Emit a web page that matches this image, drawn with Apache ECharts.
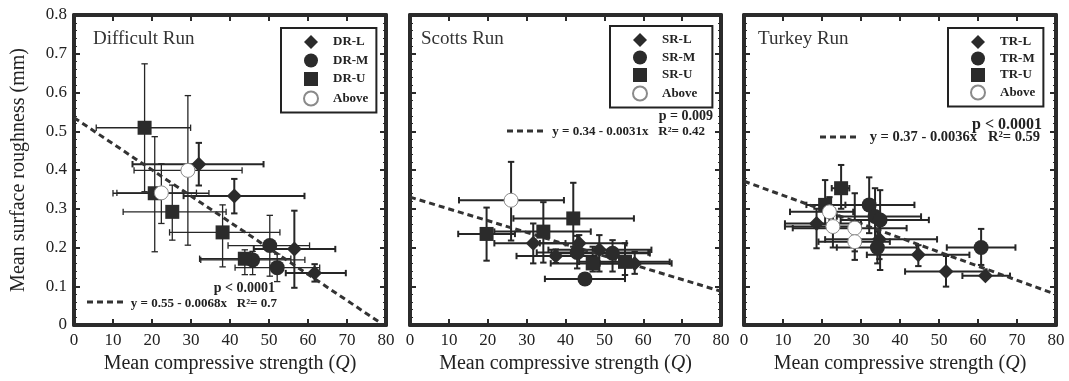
<!DOCTYPE html>
<html><head><meta charset="utf-8">
<script src="https://cdn.jsdelivr.net/npm/echarts@6/dist/echarts.min.js"></script>
<style>html,body{margin:0;padding:0;background:#fff}#c{width:1069px;height:381px}</style>
</head><body><div id="c"></div>
<script>
// ---------- data ----------
// axis ranges / ticks
const xMin = 0, xMax = 80, xStep = 10;
const yMin = 0, yMax = 0.8, yStep = 0.1;
const panelTitles = ['Difficult Run', 'Scotts Run', 'Turkey Run'];
const xAxisTitle = 'Mean compressive strength ({i|Q})';
const yAxisTitle = 'Mean surface roughness (mm)';

// rows: [meanQ, meanRoughness, Qlow, Qhigh, roughLow, roughHigh]
const drL = [[32.0,0.415,15.0,48.6,0.360,0.470],[41.1,0.333,28.1,59.1,0.288,0.377],[56.5,0.196,46.1,67.0,0.096,0.295],[61.7,0.134,54.3,69.7,0.112,0.157]];
const drM = [[50.2,0.205,39.5,60.4,0.126,0.283],[45.8,0.168,32.5,59.2,0.130,0.190],[52.1,0.148,41.3,63.0,0.112,0.183]];
const drU = [[18.1,0.509,5.7,29.9,0.344,0.674],[20.7,0.340,10.0,34.6,0.189,0.486],[25.2,0.292,12.6,39.0,0.219,0.361],[38.1,0.239,24.5,52.8,0.150,0.310],[43.8,0.171,32.2,55.6,0.130,0.194]];
const drAbove = [[29.2,0.399,15.4,43.1,0.206,0.592],[22.4,0.341,11.0,31.4,0.262,0.416]];
const drFit = [[0,0.535],[78.8,0.004]];

const srL = [[31.7,0.211,21.7,40.0,0.159,0.262],[37.5,0.178,27.4,48.0,0.160,0.195],[43.5,0.211,33.4,55.7,0.190,0.232],[48.7,0.194,35.6,62.1,0.138,0.232],[57.8,0.159,48.8,67.3,0.132,0.189]];
const srM = [[43.0,0.187,32.6,61.3,0.146,0.230],[52.1,0.185,36.4,61.7,0.138,0.219],[45.0,0.119,34.7,55.3,0.110,0.130]];
const srU = [[19.7,0.235,12.4,27.0,0.166,0.303],[34.3,0.241,21.7,46.5,0.161,0.317],[42.0,0.275,26.6,57.6,0.202,0.367],[47.0,0.159,36.2,57.4,0.138,0.202],[55.3,0.163,43.5,66.8,0.129,0.211]];
const srAbove = [[26.0,0.322,12.6,39.6,0.218,0.421]];
const srFit = [[0,0.330],[80,0.087]];

const trL = [[18.6,0.262,10.5,30.0,0.198,0.300],[34.7,0.221,20.8,49.5,0.170,0.270],[44.7,0.181,31.5,57.8,0.152,0.206],[51.8,0.138,41.3,62.2,0.099,0.178],[61.9,0.127,56.0,68.2,0.120,0.135]];
const trM = [[32.1,0.310,21.2,43.7,0.237,0.381],[33.6,0.280,23.8,45.4,0.200,0.353],[34.9,0.271,24.8,47.4,0.142,0.348],[34.2,0.200,23.8,44.3,0.159,0.241],[60.8,0.200,52.0,69.6,0.155,0.248]];
const trU = [[24.9,0.353,22.5,27.0,0.300,0.413],[20.8,0.310,16.0,26.0,0.260,0.374]];
const trAbove = [[21.9,0.292,11.8,28.0,0.250,0.330],[22.8,0.254,10.5,30.0,0.200,0.300],[28.4,0.250,12.5,41.7,0.190,0.340],[28.4,0.215,19.1,37.4,0.168,0.260]];
const trFit = [[0,0.371],[80,0.079]];

const panelGroups = [
  [['DR-L', drL], ['DR-M', drM], ['DR-U', drU], ['Above', drAbove]],
  [['SR-L', srL], ['SR-M', srM], ['SR-U', srU], ['Above', srAbove]],
  [['TR-L', trL], ['TR-M', trM], ['TR-U', trU], ['Above', trAbove]]
];
const panelFits = [drFit, srFit, trFit];
const pTexts = ['p < 0.0001', 'p = 0.009', 'p < 0.0001'];
const eqTexts = ['y = 0.55 - 0.0068x   R\u00b2= 0.7', 'y = 0.34 - 0.0031x   R\u00b2= 0.42', 'y = 0.37 - 0.0036x   R\u00b2= 0.59'];

// ---------- layout / style ----------
const SERIF = '"Liberation Serif", "Times New Roman", serif';
const INK = '#2b2b2b';
const grids = [
  {left: 74, top: 15, width: 312, height: 310},
  {left: 410, top: 15, width: 311, height: 310},
  {left: 744, top: 15, width: 312, height: 310}
];
const legendPos = [
  {left: 281, top: 28, itemGap: 4.5, padR: 8},
  {left: 610, top: 26, itemGap: 3.5, padR: 15},
  {left: 948, top: 28, itemGap: 2.5, padR: 8}
];
const titlePos = [{left: 93, top: 30}, {left: 421, top: 30}, {left: 758, top: 30}];
const annot = [
  {p: [275, 288, 14], eq: [277, 304, 13], dash: [87, 125, 302]},
  {p: [713, 116, 14], eq: [705, 132, 13], dash: [507, 546, 131]},
  {p: [1042, 125, 16], eq: [1040, 137, 14.5], dash: [820, 858, 137]}
];
const symbols = [
  {symbol: 'diamond', size: 15, itemStyle: {color: INK, opacity: 1}},
  {symbol: 'circle', size: 15, itemStyle: {color: INK, opacity: 1}},
  {symbol: 'rect', size: 14, itemStyle: {color: INK, opacity: 1}},
  {symbol: 'circle', size: 14, itemStyle: {color: '#fff', borderColor: '#8a8a8a', borderWidth: 1, opacity: 1}}
];
const barWidth = [[2, 1.3, 1.3, 1.3], [2, 2, 2, 2], [2, 2, 2, 2]];

function errRender(lw) {
  return function (params, api) {
    const x = api.value(0), y = api.value(1);
    const a = api.coord([api.value(2), y]), b = api.coord([api.value(3), y]);
    const c = api.coord([x, api.value(4)]), d = api.coord([x, api.value(5)]);
    const h = 3.2;
    const st = {stroke: '#262626', lineWidth: lw};
    const L = (x1, y1, x2, y2) => ({type: 'line', shape: {x1, y1, x2, y2}, style: st});
    return {type: 'group', children: [
      L(a[0], a[1], b[0], b[1]), L(a[0], a[1] - h, a[0], a[1] + h), L(b[0], b[1] - h, b[0], b[1] + h),
      L(c[0], c[1], d[0], d[1]), L(c[0] - h, c[1], c[0] + h, c[1]), L(d[0] - h, d[1], d[0] + h, d[1])
    ]};
  };
}

const xAxes = [], yAxes = [], series = [], legends = [], titles = [], graphics = [];
const axisLine = {show: true, onZero: false, lineStyle: {color: INK, width: 4}};
const axisTick = {show: true, inside: true, length: 6, lineStyle: {color: INK, width: 2}};

grids.forEach((g, i) => {
  xAxes.push({
    gridIndex: i, type: 'value', min: xMin, max: xMax, interval: xStep, position: 'bottom',
    axisLine, axisTick, splitLine: {show: false},
    axisLabel: {fontFamily: SERIF, fontSize: 17, color: '#222', margin: 7},
    name: xAxisTitle, nameLocation: 'middle', nameGap: 26,
    nameTextStyle: {fontFamily: SERIF, fontSize: 20, color: '#222', rich: {i: {fontFamily: SERIF, fontSize: 20, fontStyle: 'italic', color: '#222'}}}
  });
  xAxes.push({
    gridIndex: i, type: 'value', min: xMin, max: xMax, interval: xStep, position: 'top',
    axisLine, axisTick, splitLine: {show: false}, axisLabel: {show: false}
  });
  const yBase = {
    gridIndex: i, type: 'value', min: yMin, max: yMax, interval: yStep,
    axisLine, axisTick, splitLine: {show: false},
    minorTick: {show: true, splitNumber: 5, length: 3, lineStyle: {color: INK, width: 1}}
  };
  yAxes.push(Object.assign({}, yBase, {
    position: 'left',
    axisLabel: {show: i === 0, fontFamily: SERIF, fontSize: 17, color: '#222', margin: 7},
    name: i === 0 ? yAxisTitle : '', nameLocation: 'middle', nameGap: 45,
    nameTextStyle: {fontFamily: SERIF, fontSize: 20, color: '#222'}
  }));
  yAxes.push(Object.assign({}, yBase, {position: 'right', axisLabel: {show: false}}));

  const xi = i * 2, yi = i * 2;
  panelGroups[i].forEach((grp, k) => {
    series.push({
      name: 'err-' + grp[0] + '-' + i, type: 'custom', xAxisIndex: xi, yAxisIndex: yi, z: 1,
      renderItem: errRender(barWidth[i][k]), data: grp[1], encode: {x: [0, 2, 3], y: [1, 4, 5]},
      silent: true
    });
  });
  series.push({
    name: 'fit-' + i, type: 'line', xAxisIndex: xi, yAxisIndex: yi, z: 2, data: panelFits[i],
    symbol: 'none', silent: true, lineStyle: {color: '#333', width: 3, type: [6, 4]}
  });
  panelGroups[i].forEach((grp, k) => {
    const s = symbols[k];
    series.push({
      name: grp[0], type: 'scatter', xAxisIndex: xi, yAxisIndex: yi, z: 3 + k,
      symbol: s.symbol, symbolSize: s.size, itemStyle: s.itemStyle,
      data: grp[1], encode: {x: 0, y: 1}
    });
  });

  legends.push({
    data: panelGroups[i].map(g => g[0]), orient: 'vertical',
    left: legendPos[i].left, top: legendPos[i].top, itemGap: legendPos[i].itemGap,
    itemWidth: 14, itemHeight: 14, padding: [7, legendPos[i].padR, 6, 22],
    borderColor: '#222', borderWidth: 2, backgroundColor: '#fff', selectedMode: false,
    itemStyle: {opacity: 1},
    textStyle: {fontFamily: SERIF, fontWeight: 'bold', fontSize: 13, color: '#222', padding: [0, 0, 0, 10]}
  });
  titles.push({
    text: panelTitles[i], left: titlePos[i].left, top: titlePos[i].top, padding: 0,
    textStyle: {fontFamily: SERIF, fontWeight: 'normal', fontSize: 19, color: '#333'}
  });
  const a = annot[i];
  graphics.push({type: 'text', x: a.p[0], y: a.p[1], z: 10, style: {
    text: pTexts[i], fontFamily: SERIF, fontWeight: 'bold', fontSize: a.p[2], fill: '#222', align: 'right', verticalAlign: 'middle'}});
  graphics.push({type: 'text', x: a.eq[0], y: a.eq[1], z: 10, style: {
    text: eqTexts[i], fontFamily: SERIF, fontWeight: 'bold', fontSize: a.eq[2], fill: '#222', align: 'right', verticalAlign: 'middle'}});
  graphics.push({type: 'line', z: 10, shape: {x1: a.dash[0], y1: a.dash[2], x2: a.dash[1], y2: a.dash[2]},
    style: {stroke: '#333', lineWidth: 3, lineDash: [6, 4]}});
});

const chart = echarts.init(document.getElementById('c'), null, {renderer: 'canvas'});
chart.setOption({
  animation: false,
  backgroundColor: '#fff',
  title: titles,
  grid: grids,
  xAxis: xAxes,
  yAxis: yAxes,
  legend: legends,
  series: series,
  graphic: graphics
});
</script></body></html>
